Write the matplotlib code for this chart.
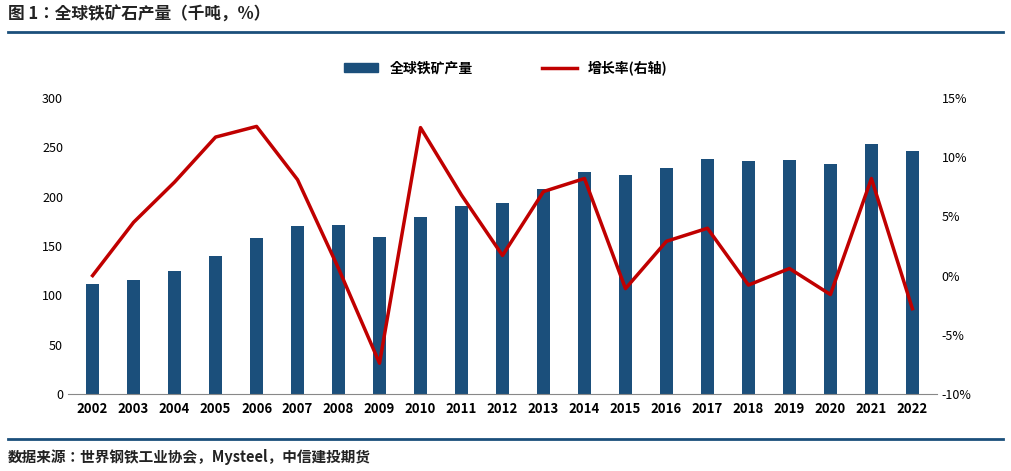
import matplotlib
matplotlib.use("Agg")
import matplotlib.pyplot as plt
from matplotlib import font_manager as fm
from matplotlib.ticker import FuncFormatter
from matplotlib.lines import Line2D

cjk = [f.name for f in fm.fontManager.ttflist if 'CJK' in f.name]
pref = [n for n in ['Noto Sans CJK SC', 'Noto Sans CJK JP'] if n in cjk] or cjk[:1]
plt.rcParams['font.family'] = 'sans-serif'
plt.rcParams['font.sans-serif'] = ['DejaVu Sans'] + pref if False else pref + ['DejaVu Sans']

years = [str(y) for y in range(2002, 2023)]
output = [111, 116, 125, 140, 158, 170, 171, 159, 179, 191, 194, 208, 225, 222, 229, 238, 236, 237, 233, 253, 246]
growth = [0.0, 4.5, 7.9, 11.7, 12.6, 8.1, 0.6, -7.4, 12.5, 6.8, 1.7, 7.1, 8.2, -1.1, 2.9, 4.0, -0.8, 0.6, -1.6, 8.2, -2.8]

W, H = 1011, 471
fig = plt.figure(figsize=(W/100, H/100), dpi=100)
ax = fig.add_axes([68/W, 1-394/H, (937-68)/W, (394-98)/H])
x = list(range(len(years)))
ax.bar(x, output, width=0.32, color='#1B4F7B')
ax.set_ylim(0, 300)
ax.set_xlim(-0.6, len(years)-0.4)
ax.set_xticks(x)
ax.set_xticklabels(years, fontsize=9.5, fontweight='bold')
ax.set_yticks(range(0, 301, 50))
ax.tick_params(axis='y', labelsize=9, length=0)
ax.tick_params(axis='x', length=0, pad=6)
for s in ['top', 'right', 'left']:
    ax.spines[s].set_visible(False)
ax.spines['bottom'].set_color('#888888')

ax2 = ax.twinx()
ax2.plot(x, growth, color='#C00000', lw=2.5)
ax2.set_ylim(-10, 15)
ax2.set_yticks(range(-10, 16, 5))
ax2.yaxis.set_major_formatter(FuncFormatter(lambda v, p: f"{int(v)}%"))
ax2.tick_params(axis='y', labelsize=9, length=0)
for s in ['top', 'right', 'left', 'bottom']:
    ax2.spines[s].set_visible(False)

handles = [plt.Rectangle((0, 0), 1, 1, color='#1B4F7B'), Line2D([], [], color='#C00000', lw=2.5)]
fig.legend(handles, ['全球铁矿产量', '增长率(右轴)'], loc='center', bbox_to_anchor=(0.5, 1-68/H),
           ncol=2, frameon=False, prop={'weight': 'bold', 'size': 10}, columnspacing=5, handlelength=2.5)

fig.text(8/W, 1-15/H, '图 1：全球铁矿石产量（千吨，%）', fontsize=12, fontweight='bold', va='center', color='#222222')
fig.add_artist(Line2D([8/W, 1003/W], [1-32/H, 1-32/H], color='#1B4F7B', lw=2))
fig.add_artist(Line2D([8/W, 1003/W], [1-439/H, 1-439/H], color='#1B4F7B', lw=2))
fig.text(8/W, 1-457/H, '数据来源：世界钢铁工业协会，Mysteel，中信建投期货', fontsize=10.5, style='italic', fontweight='bold', va='center', color='#222222')

fig.savefig('out.png', dpi=100)
